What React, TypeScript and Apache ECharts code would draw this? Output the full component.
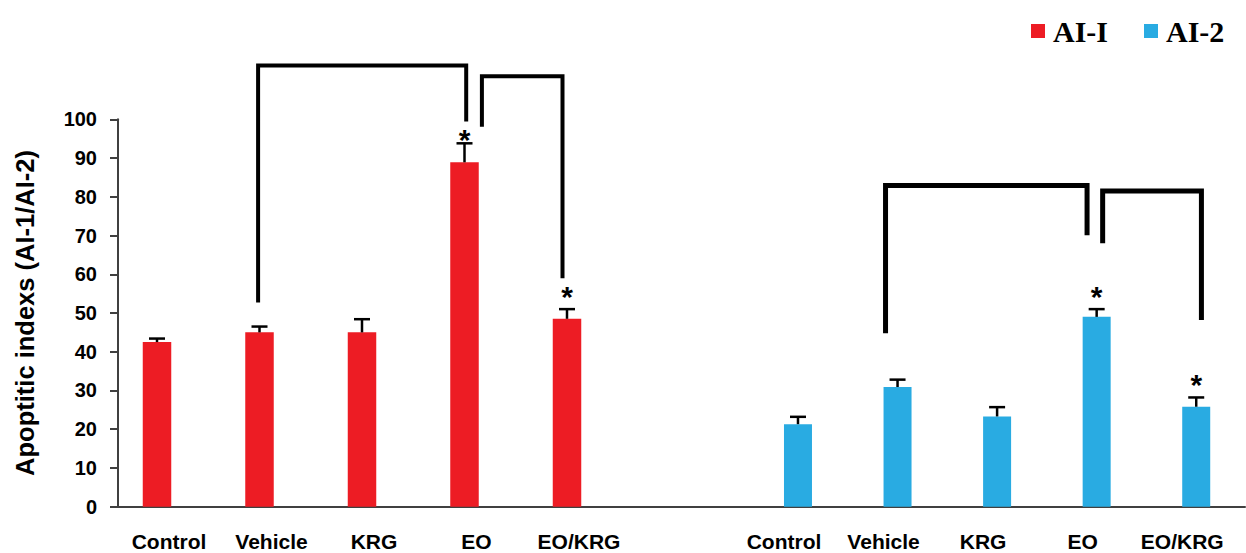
import React, { useEffect, useRef } from "react";
import * as echarts from "echarts";

// ---------- data ----------
const categories = ["Control", "Vehicle", "KRG", "EO", "EO/KRG"];
const ai1Values = [42.5, 45.0, 45.0, 88.9, 48.5];
const ai1Errors = [0.9, 1.5, 3.4, 4.9, 2.5];
const ai1Stars = [0, 0, 0, 1, 1];
const ai2Values = [21.3, 30.9, 23.3, 49.0, 25.8];
const ai2Errors = [1.9, 1.9, 2.4, 2.0, 2.4];
const ai2Stars = [0, 0, 0, 1, 1];
const yMin = 0;
const yMax = 100;
const yInterval = 10;

// significance brackets: from / to category, height of bar, end heights
const ai1Brackets = [
  { from: "Vehicle", to: "EO", top: 113.9, fromEnd: 52.7, toEnd: 99.4 },
  { from: "EO", to: "EO/KRG", top: 111.1, fromEnd: 98.1, toEnd: 59.0 },
];
const ai2Brackets = [
  { from: "Vehicle", to: "EO", top: 82.9, fromEnd: 44.8, toEnd: 70.1 },
  { from: "EO", to: "EO/KRG", top: 81.5, fromEnd: 68.0, toEnd: 48.2 },
];

// ---------- styles ----------
const RED = "#ED1C24";
const BLUE = "#29ABE2";
const AXIS = "#404040";
const SANS = "'Liberation Sans', Arial, Helvetica, sans-serif";
const SERIF = "'Liberation Serif', 'Times New Roman', serif";
const ai1Nudge = [
  [-1.4, 1.7],
  [17.4, -4.5],
];
const ai2Nudge = [
  [-12, -9.6],
  [6, 5.2],
];
const ai1StarGap = [17, 17, 17, 8, 17];
const ai2StarGap = [17, 17, 17, 17, 17];

const GRID_TOP = 119.3;
const GRID_H = 387.4;

function errorSeries(name: string, values: number[], errors: number[], stars: number[], gaps: number[], axis: number) {
  return {
    type: "custom",
    name,
    xAxisIndex: axis,
    yAxisIndex: axis,
    clip: false,
    z: 5,
    encode: { x: 0, y: [1, 2] },
    data: values.map((v, i) => [i, v, v + errors[i], stars[i]]),
    renderItem: (params: any, api: any) => {
      const i = params.dataIndex;
      const base = api.coord([api.value(0), api.value(1)]);
      const top = api.coord([api.value(0), api.value(2)]);
      const x = base[0];
      const children: any[] = [
        {
          type: "line",
          shape: { x1: x, y1: base[1], x2: x, y2: top[1] },
          style: { stroke: "#000", lineWidth: 2.5 },
        },
        {
          type: "line",
          shape: { x1: x - 8, y1: top[1], x2: x + 8, y2: top[1] },
          style: { stroke: "#000", lineWidth: 2.5 },
        },
      ];
      if (api.value(3)) {
        children.push({
          type: "text",
          x: x,
          y: top[1] - gaps[i] + 4,
          style: {
            text: "*",
            fill: "#000",
            font: `bold 30px ${SANS}`,
            textAlign: "center",
            textVerticalAlign: "middle",
          },
        });
      }
      return { type: "group", children };
    },
  };
}

function bracketSeries(name: string, brackets: any[], nudges: number[][], width: number, axis: number) {
  return {
    type: "custom",
    name,
    xAxisIndex: axis,
    yAxisIndex: axis,
    clip: false,
    z: 6,
    encode: { x: [0, 1], y: [2, 3, 4] },
    data: brackets.map((b) => [
      categories.indexOf(b.from),
      categories.indexOf(b.to),
      b.top,
      b.fromEnd,
      b.toEnd,
    ]),
    renderItem: (params: any, api: any) => {
      const i = params.dataIndex;
      const x1 = api.coord([api.value(0), 0])[0] + nudges[i][0];
      const x2 = api.coord([api.value(1), 0])[0] + nudges[i][1];
      const yTop = api.coord([0, api.value(2)])[1];
      const y1 = api.coord([0, api.value(3)])[1];
      const y2 = api.coord([0, api.value(4)])[1];
      return {
        type: "polyline",
        shape: {
          points: [
            [x1, y1],
            [x1, yTop],
            [x2, yTop],
            [x2, y2],
          ],
        },
        style: { stroke: "#000", lineWidth: width, fill: null, lineJoin: "miter" },
      };
    },
  };
}

function catAxis(index: number, padding: number[]) {
  return {
    type: "category",
    gridIndex: index,
    data: categories,
    axisLine: { show: false },
    axisTick: { show: false },
    splitLine: { show: false },
    axisLabel: {
      interval: 0,
      margin: 24,
      color: "#000",
      fontSize: 21,
      fontWeight: "bold",
      fontFamily: SANS,
      padding,
    },
  };
}

function hiddenY(index: number) {
  return { type: "value", gridIndex: index, min: yMin, max: yMax, interval: yInterval, show: false };
}

export default function App() {
  const ref = useRef<HTMLDivElement>(null);
  useEffect(() => {
    if (!ref.current) return;
    const chart = echarts.init(ref.current, undefined, { renderer: "svg" });
    chart.setOption({
      animation: false,
      backgroundColor: "#fff",
      legend: {
        data: ["AI-I", "AI-2"],
        left: 1026,
        top: 11,
        icon: "rect",
        itemWidth: 14,
        itemHeight: 14,
        itemGap: 36,
        textStyle: {
          fontFamily: SERIF,
          fontWeight: "bold",
          fontSize: 30,
          color: "#000",
          padding: [0, 0, 0, 3],
        },
      },
      grid: [
        { left: 105.75, top: GRID_TOP, width: 512.5, height: GRID_H },
        { left: 748.2, top: GRID_TOP, width: 513, height: GRID_H },
        { left: 118, top: GRID_TOP, width: 1127, height: GRID_H },
      ],
      xAxis: [
        catAxis(0, [0, 0, 0, 24]),
        catAxis(1, [0, 28, 0, 0]),
        {
          type: "value",
          gridIndex: 2,
          min: 0,
          max: 1,
          axisLine: { show: true, lineStyle: { color: AXIS, width: 2 } },
          axisTick: { show: false },
          axisLabel: { show: false },
          splitLine: { show: false },
        },
      ],
      yAxis: [
        hiddenY(0),
        hiddenY(1),
        {
          type: "value",
          gridIndex: 2,
          min: yMin,
          max: yMax,
          interval: yInterval,
          name: "Apoptitic indexs (AI-1/AI-2)",
          nameLocation: "middle",
          nameGap: 80,
          nameTextStyle: { fontFamily: SANS, fontWeight: "bold", fontSize: 25.5, color: "#000" },
          axisLine: { show: true, lineStyle: { color: AXIS, width: 2 } },
          axisTick: { show: true, inside: false, length: 8, lineStyle: { color: AXIS, width: 2 } },
          splitLine: { show: false },
          axisLabel: {
            margin: 21,
            color: "#000",
            fontSize: 20,
            fontWeight: "bold",
            fontFamily: SANS,
            padding: [5, 0, 0, 0],
          },
        },
      ],
      series: [
        {
          type: "bar",
          name: "AI-I",
          xAxisIndex: 0,
          yAxisIndex: 0,
          data: ai1Values,
          barWidth: 28.5,
          itemStyle: { color: RED },
        },
        {
          type: "bar",
          name: "AI-2",
          xAxisIndex: 1,
          yAxisIndex: 1,
          data: ai2Values,
          barWidth: 28,
          itemStyle: { color: BLUE },
        },
        errorSeries("AI-I error", ai1Values, ai1Errors, ai1Stars, ai1StarGap, 0),
        errorSeries("AI-2 error", ai2Values, ai2Errors, ai2Stars, ai2StarGap, 1),
        bracketSeries("AI-I brackets", ai1Brackets, ai1Nudge, 4, 0),
        bracketSeries("AI-2 brackets", ai2Brackets, ai2Nudge, 5, 1),
      ],
    });
    return () => chart.dispose();
  }, []);
  return (
    <div
      ref={ref}
      style={{ position: "fixed", left: 0, top: 0, width: 1246, height: 553, background: "#fff" }}
    />
  );
}
